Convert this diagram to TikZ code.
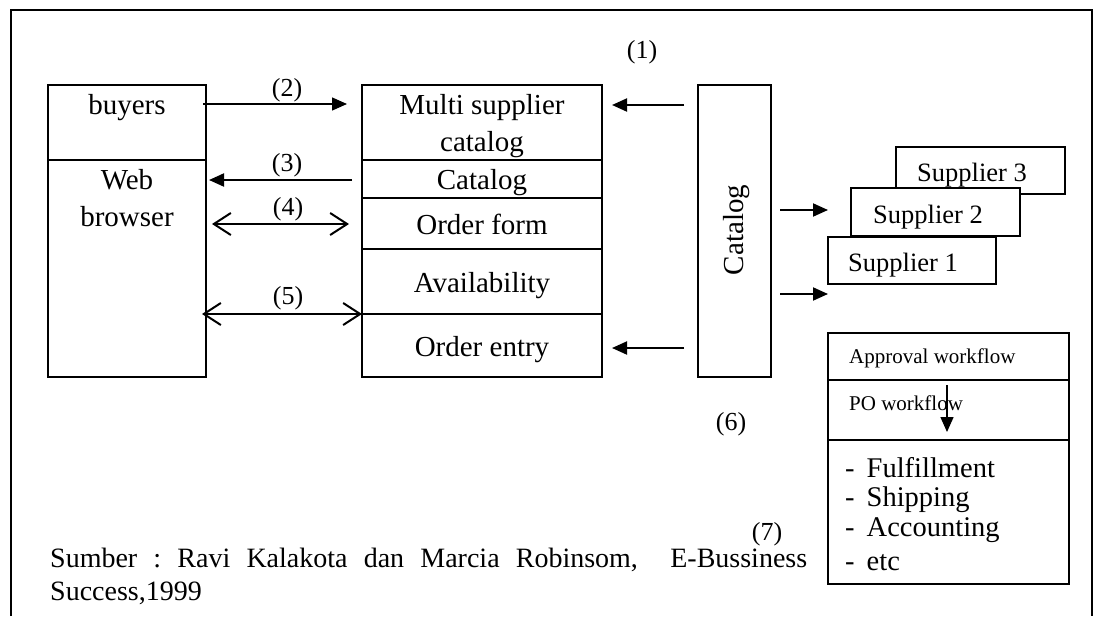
\documentclass[tikz,border=0pt]{standalone}
\usepackage{fontspec}
\setmainfont{Liberation Serif}
\usetikzlibrary{arrows.meta}

\tikzset{
  box/.style={draw, line width=2pt, inner sep=0pt, outer sep=0pt, anchor=north west},
  rule/.style={line width=2pt},
  txt/.style={inner sep=0pt, font=\fontsize{29}{34}\selectfont, text height=0.68em, text depth=0.2em},
  lbl/.style={inner sep=0pt, font=\fontsize{26}{30}\selectfont, text height=0.68em, text depth=0.2em},
  sup/.style={inner sep=0pt, font=\fontsize{26.5}{30}\selectfont, text height=0.68em, text depth=0.2em, anchor=west},
  small/.style={inner sep=0pt, font=\fontsize{21}{25}\selectfont, text height=0.68em, text depth=0.2em, anchor=west},
  item/.style={inner sep=0pt, font=\fontsize{28.5}{30}\selectfont, text height=0.68em, text depth=0.2em, anchor=west},
  note/.style={inner sep=0pt, anchor=base west, font=\fontsize{28}{32}\selectfont},
  solidarrow/.style={line width=2pt, -{Triangle[length=15pt,width=13pt]}},
  openboth/.style={line width=2pt, {Straight Barb[length=17pt,width=22pt]}-{Straight Barb[length=17pt,width=22pt]}},
}

\begin{document}
\begin{tikzpicture}[x=1pt, y=-1pt]
\useasboundingbox (0,0) rectangle (1094,616);

% outer frame, open at the bottom
\draw[line width=2.7pt] (11,616) -- (11,10) -- (1092,10) -- (1092,616);

% buyer side: web browser column
\node[box, minimum width=158pt, minimum height=292pt] (browser) at (48,85) {};
\draw[rule] (browser.west |- 0,160) -- (browser.east |- 0,160);
\node[txt] (tbuyers) at (127,112) {buyers};
\node[txt] (tweb) at (127,187) {Web};
\node[txt] (tbrowser) at (127,224) {browser};

% multi supplier catalog column
\node[box, minimum width=240pt, minimum height=292pt] (multi) at (362,85) {};
\draw[rule] (multi.west |- 0,160) -- (multi.east |- 0,160);
\draw[rule] (multi.west |- 0,198) -- (multi.east |- 0,198);
\draw[rule] (multi.west |- 0,249) -- (multi.east |- 0,249);
\draw[rule] (multi.west |- 0,314) -- (multi.east |- 0,314);
\node[txt] (tmulti) at (482,112) {Multi supplier};
\node[txt] (tmcat) at (482,149) {catalog};
\node[txt] (tcat) at (482,187) {Catalog};
\node[txt] (torder) at (482,232) {Order form};
\node[txt] (tavail) at (482,290) {Availability};
\node[txt] (tentry) at (482,354) {Order entry};

% supplier catalog column
\node[box, minimum width=73pt, minimum height=292pt] (catalog) at (698,85) {};
\node[txt, rotate=90] (tcatalog) at (741,230) {Catalog};

% suppliers, stacked back to front
\node[box, minimum width=169pt, minimum height=47pt] (s3) at (896,147) {};
\node[box, fill=white, minimum width=169pt, minimum height=48pt] (s2) at (851,188) {};
\node[box, fill=white, minimum width=168pt, minimum height=47pt] (s1) at (828,237) {};
\node[sup] (ts3) at (917,179) {Supplier 3};
\node[sup] (ts2) at (873,221) {Supplier 2};
\node[sup] (ts1) at (848,269) {Supplier 1};

% back office workflow box
\node[box, minimum width=241pt, minimum height=251pt] (flow) at (828,333) {};
\draw[rule] (flow.west |- 0,380) -- (flow.east |- 0,380);
\draw[rule] (flow.west |- 0,440) -- (flow.east |- 0,440);
\node[small] (tappr) at (849,361) {Approval workflow};
\node[small] (tpo) at (849,408) {PO workflow};
\node[item] (i1) at (845,475) {-\hspace{12pt}Fulfillment};
\node[item] (i2) at (845,504) {-\hspace{12pt}Shipping};
\node[item] (i3) at (845,534) {-\hspace{12pt}Accounting};
\node[item] (i4) at (845,568) {-\hspace{12pt}etc};

% connector end points
\coordinate (a2s) at (203,104);  \coordinate (a2e) at (347,104);
\coordinate (a3s) at (352,180);  \coordinate (a3e) at (209,180);
\coordinate (a4s) at (212,224);  \coordinate (a4e) at (349,224);
\coordinate (a5s) at (202,314);  \coordinate (a5e) at (362,314);
\coordinate (c1s) at (684,105);  \coordinate (c1e) at (612,105);
\coordinate (c2s) at (684,348);  \coordinate (c2e) at (612,348);
\coordinate (r1s) at (780,210);  \coordinate (r1e) at (828,210);
\coordinate (r2s) at (780,294);  \coordinate (r2e) at (828,294);
\coordinate (pos) at (947,385);  \coordinate (poe) at (947,432);

% connectors
\draw[solidarrow, line width=1.4pt] (a2s) -- (a2e);
\draw[solidarrow] (a3s) -- (a3e);
\draw[openboth] (a4s) -- (a4e);
\draw[openboth] (a5s) -- (a5e);
\draw[solidarrow] (c1s) -- (c1e);
\draw[solidarrow] (c2s) -- (c2e);
\draw[solidarrow] (r1s) -- (r1e);
\draw[solidarrow] (r2s) -- (r2e);
\draw[solidarrow, line width=1.4pt] (pos) -- (poe);

% step numbers
\node[lbl] (n1) at (642,56) {(1)};
\node[lbl] (n2) at (287,94) {(2)};
\node[lbl] (n3) at (287,169) {(3)};
\node[lbl] (n4) at (288,213) {(4)};
\node[lbl] (n5) at (288,302) {(5)};
\node[lbl] (n6) at (731,428) {(6)};
\node[lbl] (n7) at (767,538) {(7)};

% source note
\node[note] (src1) at (50,567)
  {\hbox to 757pt{Sumber\hfill:\hfill Ravi\hfill Kalakota\hfill dan\hfill Marcia\hfill Robinsom,\hfill\hfill E-Bussiness}};
\node[note] (src2) at (50,600) {Success,1999};
\end{tikzpicture}
\end{document}
